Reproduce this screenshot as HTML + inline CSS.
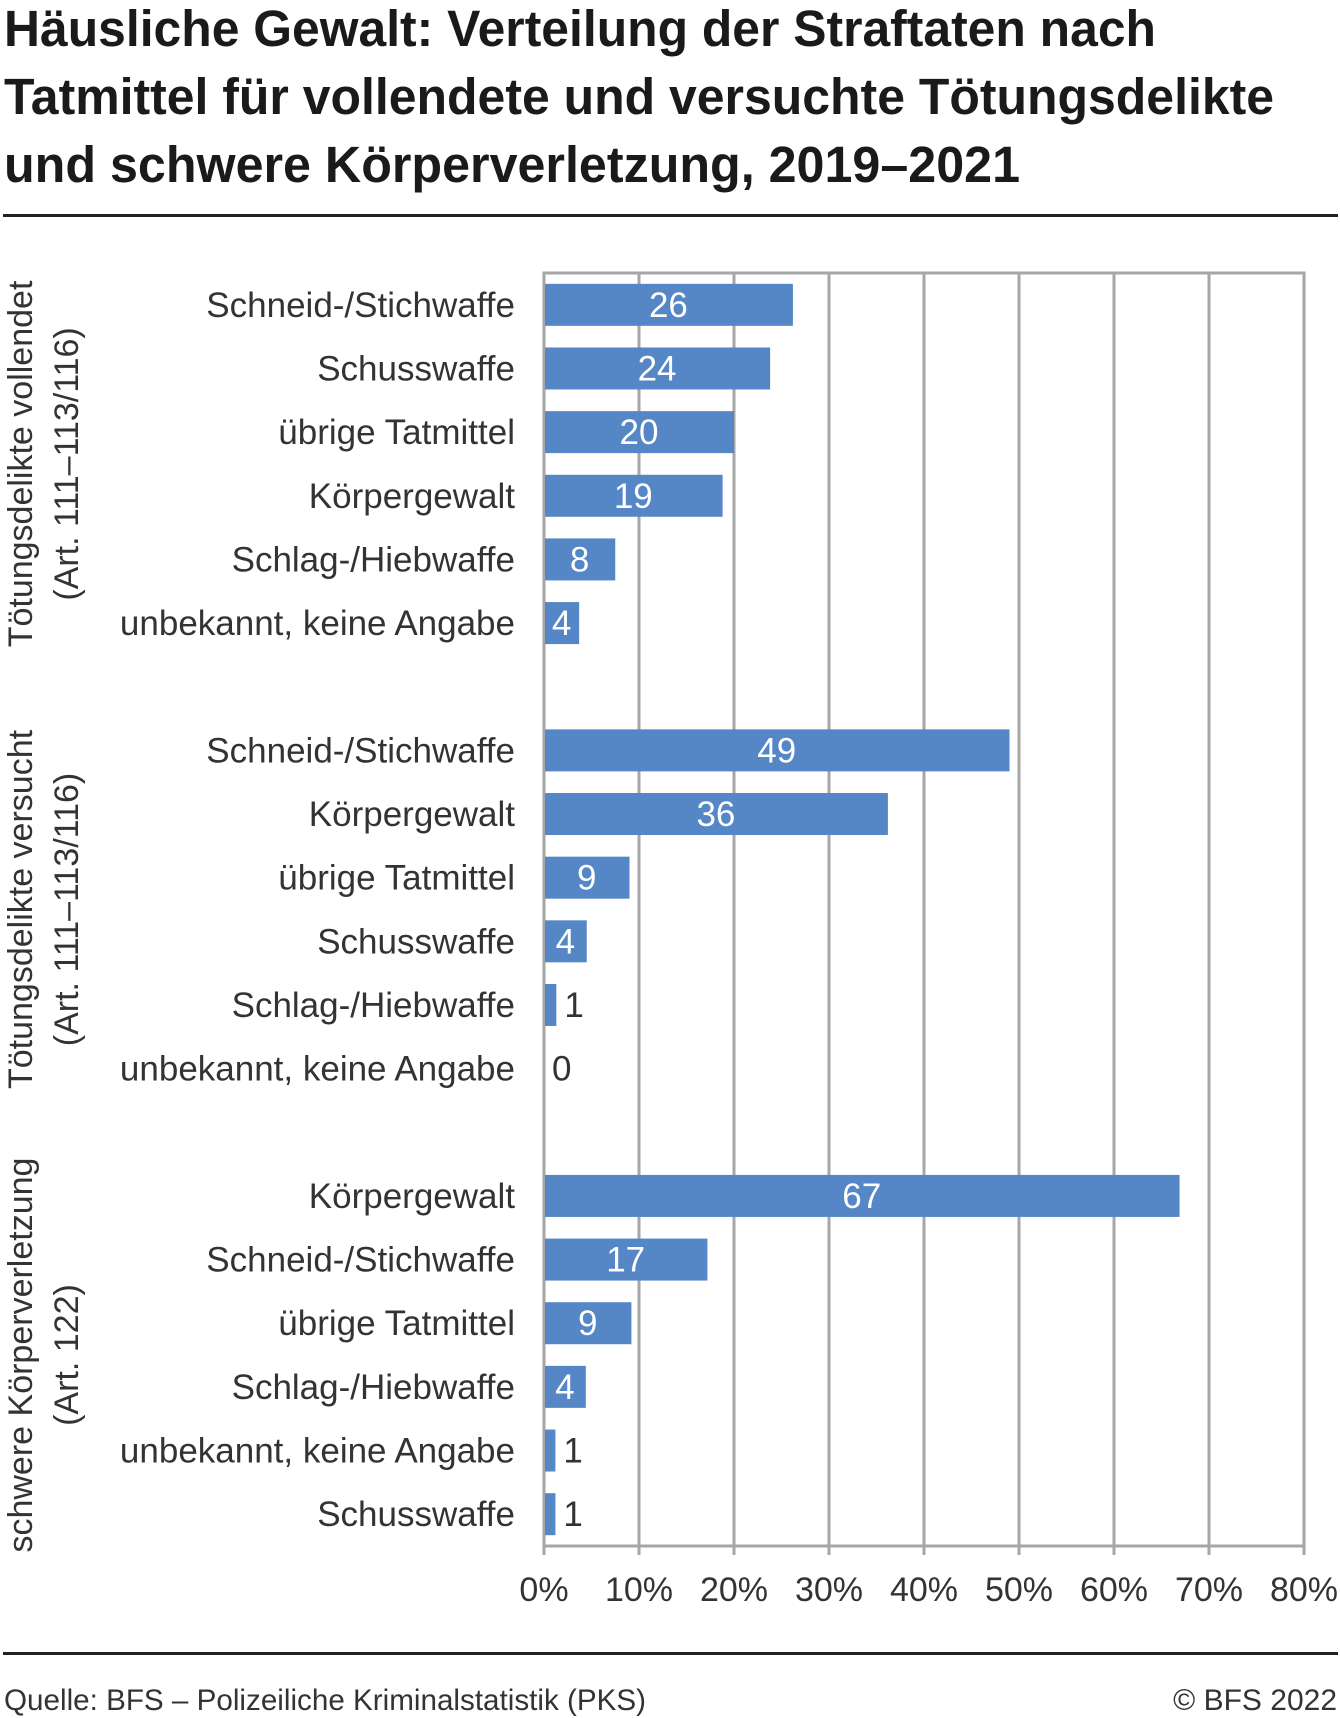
<!DOCTYPE html>
<html><head><meta charset="utf-8"><style>
html,body{margin:0;padding:0;background:#fff}
svg{display:block}
text{font-family:"Liberation Sans",sans-serif}
</style></head><body>
<svg id="chart" width="1340" height="1718" viewBox="0 0 1340 1718" xmlns="http://www.w3.org/2000/svg">
<g font-size="51" font-weight="bold" fill="#1a1a1a">
<text x="4" y="46" textLength="1152" lengthAdjust="spacingAndGlyphs">Häusliche Gewalt: Verteilung der Straftaten nach</text>
<text x="4" y="114" textLength="1270" lengthAdjust="spacingAndGlyphs">Tatmittel für vollendete und versuchte Tötungsdelikte</text>
<text x="4" y="182" textLength="1016" lengthAdjust="spacingAndGlyphs">und schwere Körperverletzung, 2019–2021</text>
</g>
<rect x="3" y="214" width="1335" height="3" fill="#222"/>
<rect x="3" y="1652" width="1335" height="3" fill="#222"/>
<text x="4" y="1710" font-size="30" fill="#333" textLength="642" lengthAdjust="spacingAndGlyphs">Quelle: BFS – Polizeiliche Kriminalstatistik (PKS)</text>
<text x="1337" y="1710" font-size="30" fill="#333" text-anchor="end">© BFS 2022</text>
<g id="plot"></g>
</svg>
<script>
const groups = [["Tötungsdelikte vollendet","(Art. 111–113/116)"],["Tötungsdelikte versucht","(Art. 111–113/116)"],["schwere Körperverletzung","(Art. 122)"]];
const categories = [
 ["Schneid-/Stichwaffe","Schusswaffe","übrige Tatmittel","Körpergewalt","Schlag-/Hiebwaffe","unbekannt, keine Angabe"],
 ["Schneid-/Stichwaffe","Körpergewalt","übrige Tatmittel","Schusswaffe","Schlag-/Hiebwaffe","unbekannt, keine Angabe"],
 ["Körpergewalt","Schneid-/Stichwaffe","übrige Tatmittel","Schlag-/Hiebwaffe","unbekannt, keine Angabe","Schusswaffe"]];
const values = [[26.2,23.8,20.0,18.8,7.5,3.7],[49.0,36.2,9.0,4.5,1.3,0],[66.9,17.2,9.2,4.4,1.2,1.2]];
const valueLabels = [["26","24","20","19","8","4"],["49","36","9","4","1","0"],["67","17","9","4","1","1"]];
const ticks = [0,10,20,30,40,50,60,70,80];

const NS="http://www.w3.org/2000/svg";
const plotG=document.getElementById('plot');
const X0=544, XW=760, XMAX=80, Y0=273, Y1=1546, SLOTS=20;
const slot=(Y1-Y0)/SLOTS;
const xs=v=>X0+v/XMAX*XW;
const yc=(gi,ri)=>Y0+(gi*7+ri+0.5)*slot;
function mk(tag,attrs,txt){const e=document.createElementNS(NS,tag);for(const k in attrs)e.setAttribute(k,attrs[k]);if(txt!==undefined)e.textContent=txt;plotG.appendChild(e);return e;}
ticks.forEach(t=>{
 const l=mk('line',{x1:xs(t),x2:xs(t),y1:Y0,y2:Y1+9,stroke:'#a6a6a6','stroke-width':3});
 
 
 const tx=mk('text',{x:xs(t),y:1601,'font-size':34,fill:'#333','text-anchor':'middle'},t+'%');
 
 
});
const topBorder=mk('line',{x1:X0-1.5,x2:xs(XMAX)+1.5,y1:Y0,y2:Y0,stroke:'#a6a6a6','stroke-width':3});


const bottomAxis=mk('line',{x1:X0-1.5,x2:xs(XMAX)+1.5,y1:Y1,y2:Y1,stroke:'#a6a6a6','stroke-width':3});


const BH=42;
groups.forEach((gr,gi)=>{
 categories[gi].forEach((c,ri)=>{
  const cy=yc(gi,ri), v=values[gi][ri];
  const lab=mk('text',{x:515,y:cy+12,'font-size':35,fill:'#333','text-anchor':'end'},c);
  
  
  if(v>0){
   const r=mk('rect',{x:X0+1,y:cy-BH/2,width:Math.max(0,xs(v)-X0-1),height:BH,fill:'#5586c6'});
   
   
  }
  const inside = xs(v)-X0 > 30;
  const vt=mk('text',{x:inside?(X0+xs(v))/2:xs(v)+8,y:cy+12,'font-size':35,fill:inside?'#fff':'#333','text-anchor':inside?'middle':'start'},valueLabels[gi][ri]);
  
  
 });
 const cy=(yc(gi,0)+yc(gi,5))/2;
 const t1=mk('text',{x:0,y:0,'font-size':34,fill:'#333','text-anchor':'middle',transform:`translate(32,${cy}) rotate(-90)`},gr[0]);
 
 
 const t2=mk('text',{x:0,y:0,'font-size':34,fill:'#333','text-anchor':'middle',transform:`translate(78,${cy}) rotate(-90)`},gr[1]);
 
 
});
</script>
</body></html>
